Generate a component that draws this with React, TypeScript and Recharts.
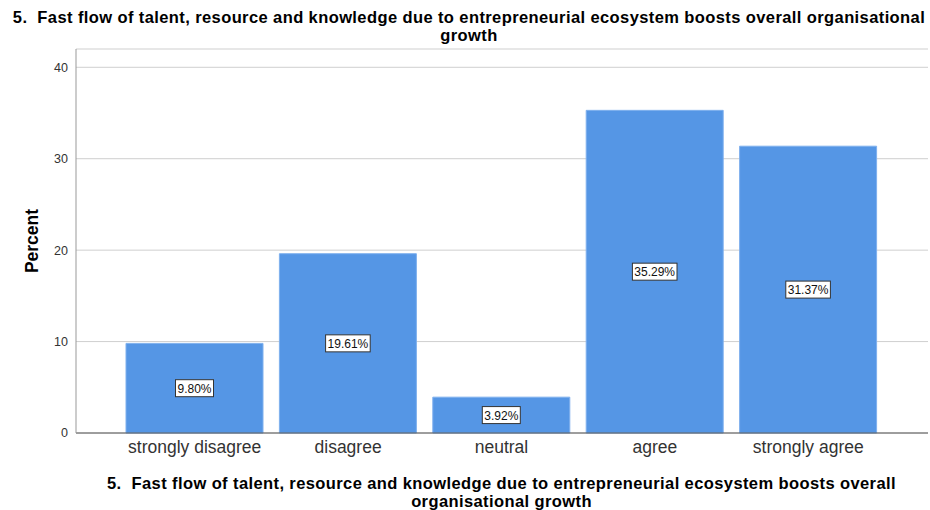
import React from 'react';
import { BarChart, Bar, XAxis, YAxis, CartesianGrid, LabelList } from 'recharts';

const categories = ['strongly disagree', 'disagree', 'neutral', 'agree', 'strongly agree'];
const percents = [9.8, 19.61, 3.92, 35.29, 31.37];
const yTicks = [0, 10, 20, 30, 40];
const titleLines = [
  '5.  Fast flow of talent, resource and knowledge due to entrepreneurial ecosystem boosts overall organisational',
  'growth',
];
const axisTitleLines = [
  '5.  Fast flow of talent, resource and knowledge due to entrepreneurial ecosystem boosts overall',
  'organisational growth',
];

const data = categories.map((c, i) => ({ name: c, value: percents[i] }));

const FONT = '"Liberation Sans", Arial, sans-serif';

const BoxLabel = (props: any) => {
  const { x, y, width, height, value } = props;
  const cx = x + width / 2;
  const cy = y + height / 2;
  const text = `${Number(value).toFixed(2)}%`;
  const w = text.length * 6.6 + 5;
  const h = 17;
  return (
    <g>
      <rect x={cx - w / 2} y={cy - h / 2} width={w} height={h} fill="#fff" stroke="#333" strokeWidth={1} />
      <text x={cx} y={cy + 4.5} textAnchor="middle" fontSize={12} fontFamily={FONT} fill="#111">
        {text}
      </text>
    </g>
  );
};

const titleStyle: React.CSSProperties = {
  position: 'absolute',
  left: 0,
  textAlign: 'center',
  fontWeight: 'bold',
  fontSize: 16.5,
  letterSpacing: '0.4px',
  lineHeight: '18px',
  color: '#000',
  whiteSpace: 'pre',
};

export default function App() {
  return (
    <div style={{ position: 'absolute', left: 0, top: 0, width: 930, height: 510, background: '#fff', fontFamily: FONT }}>
      <div style={{ ...titleStyle, top: 8, width: 938 }}>
        {titleLines.map((l, i) => (
          <div key={i}>{l}</div>
        ))}
      </div>
      <BarChart
        width={930}
        height={510}
        data={data}
        margin={{ top: 49, right: 2, bottom: 47, left: 0 }}
        barCategoryGap={8}
      >
        <CartesianGrid horizontal vertical={false} stroke="#cfcfcf" />
        <XAxis
          dataKey="name"
          height={30}
          padding={{ left: 42, right: 43 }}
          tickLine={false}
          axisLine={{ stroke: '#555' }}
          tick={{ fontSize: 17.5, fill: '#333', fontFamily: FONT }}
          interval={0}
        />
        <YAxis
          width={76}
          domain={[0, 42]}
          ticks={yTicks}
          tickLine={false}
          axisLine={{ stroke: '#999' }}
          tick={{ fontSize: 12.5, fill: '#333', fontFamily: FONT }}
          label={{ value: 'Percent', angle: -90, position: 'center', dx: -6, style: { fontSize: 17.5, fontWeight: 'bold', fill: '#000', fontFamily: FONT } }}
        />
        <Bar dataKey="value" fill="#5596e5" stroke="#7fb0ee" strokeWidth={1} isAnimationActive={false}>
          <LabelList dataKey="value" content={BoxLabel} />
        </Bar>
      </BarChart>
      <div style={{ ...titleStyle, top: 474, width: 1003 }}>
        {axisTitleLines.map((l, i) => (
          <div key={i}>{l}</div>
        ))}
      </div>
    </div>
  );
}
